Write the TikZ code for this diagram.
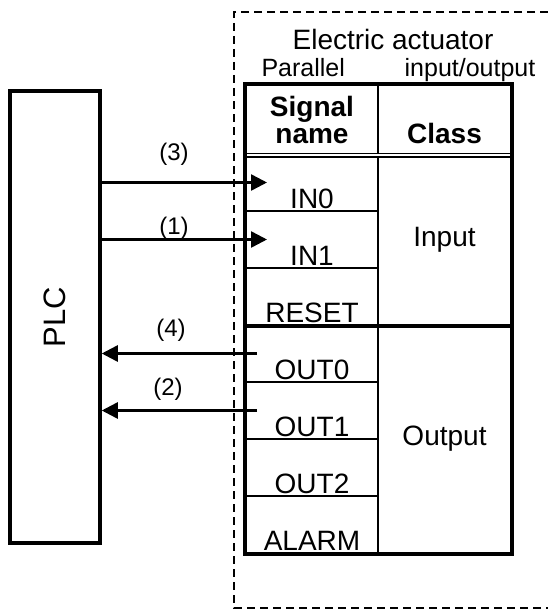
\documentclass[tikz,border=0pt]{standalone}
\usepackage{fontspec}
\setmainfont{Liberation Sans}
\usetikzlibrary{arrows.meta}

\begin{document}
\begin{tikzpicture}[
  x=1pt,y=-1pt,
  font=\fontsize{28}{28}\selectfont,
  plcbox/.style={draw,line width=3.5pt,rotate=90,minimum width=452pt,minimum height=90pt,inner sep=0pt,font=\fontsize{31}{31}\selectfont},
  cell/.style={draw,line width=2pt,inner sep=0pt,minimum width=132pt,minimum height=57pt},
  clscell/.style={cell,minimum width=133pt},
  sigcell/.style={cell,label={[anchor=base,yshift=4pt,inner sep=0pt]south:#1}},
  outer/.style={line width=4pt},
  frame/.style={line width=1.8pt,dash pattern=on 8pt off 5pt},
  sig/.style={line width=2.5pt,-{Triangle[length=16pt,width=16pt]}},
  numlbl/.style={font=\fontsize{24}{24}\selectfont},
  subttl/.style={font=\fontsize{25}{25}\selectfont}
]
\useasboundingbox (0,0) rectangle (548,610);

% actuator frame (runs off the right edge)
\draw[frame] (548,12) -- (234,12) -- (234,608) -- (548,608);

\node[anchor=base] (ttl) at (393,49) {Electric actuator};
\node[subttl,anchor=base west] (par) at (258,77) {Parallel};
\node[subttl,anchor=base] (io) at (470,77) {input/output};

% PLC
\node[plcbox] (plc) at (55,317) {PLC};

% header
\node[cell,minimum height=69pt,align=center,font=\fontsize{28}{27}\selectfont\bfseries] (hsig) at (312,119.5) {Signal\\name};
\node[clscell,minimum height=69pt,label={[anchor=base,yshift=12pt,inner sep=0pt]south:\bfseries Class}] (hcls) at (444.5,119.5) {};

% signal names
\node[sigcell=IN0] (in0) at (312,182.5) {};
\node[sigcell=IN1] (in1) at (312,239.5) {};
\node[sigcell=RESET] (reset) at (312,296.5) {};
\node[sigcell=OUT0] (out0) at (312,353.5) {};
\node[sigcell=OUT1] (out1) at (312,410.5) {};
\node[sigcell=OUT2] (out2) at (312,467.5) {};
\node[sigcell=ALARM] (alarm) at (312,524.5) {};

% classes
\node[clscell,minimum height=171pt] (cin) at (444.5,239.5) {Input};
\node[clscell,minimum height=228pt] (cout) at (444.5,439) {Output};

\draw[line width=3pt] (reset.south west) -- (cin.south east);
\draw[line width=1.4pt,double distance=2.2pt] (hsig.south west) -- (hcls.south east);
\draw[outer] (hsig.north west) rectangle (cout.south east);

% signals
\draw[sig] (plc.south |- in0) -- ([xshift=22pt]in0.west);
\draw[sig] (plc.south |- in1) -- ([xshift=22pt]in1.west);
\draw[sig] ([xshift=12pt]out0.west) -- (plc.south |- out0);
\draw[sig] ([xshift=12pt]out1.west) -- (plc.south |- out1);

\node[numlbl] (n3) at (174,154.5) {(3)};
\node[numlbl] (n1) at (174,228) {(1)};
\node[numlbl] (n4) at (171,330) {(4)};
\node[numlbl] (n2) at (168,389) {(2)};

\end{tikzpicture}
\end{document}
